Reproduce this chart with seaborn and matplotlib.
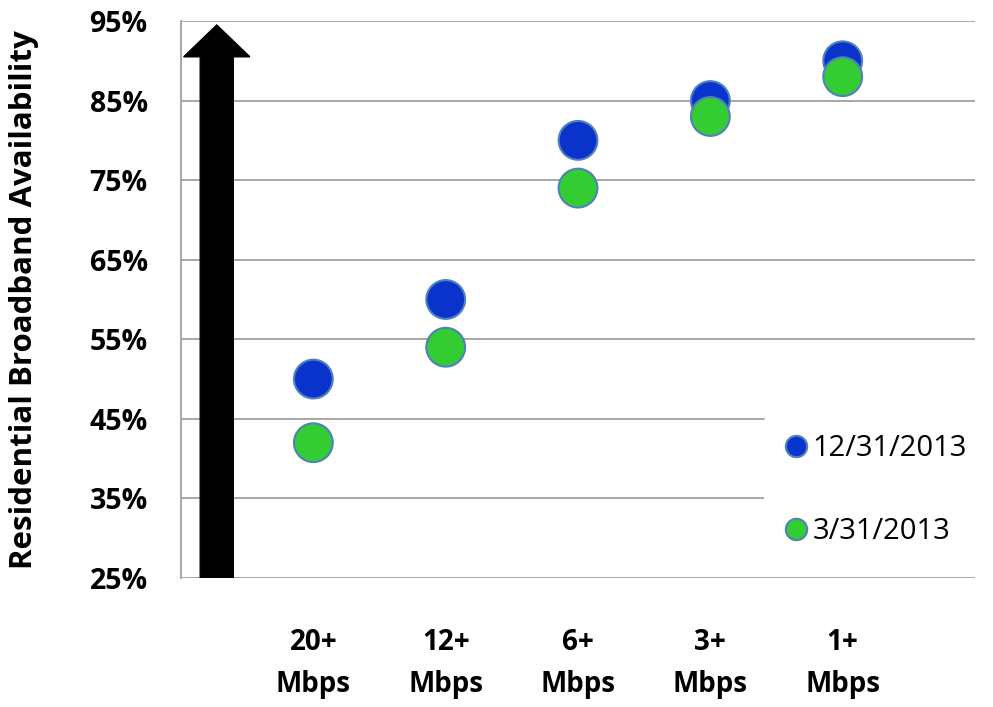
import numpy as np
import pandas as pd
import matplotlib
matplotlib.use("Agg")
import matplotlib.pyplot as plt
from matplotlib.patches import FancyArrow
import seaborn as sns

categories = ["20+\nMbps", "12+\nMbps", "6+\nMbps", "3+\nMbps", "1+\nMbps"]
series_names = ["12/31/2013", "3/31/2013"]
dec_2013 = [50, 60, 80, 85, 90]
mar_2013 = [42, 54, 74, 83, 88]
y_ticks = [25, 35, 45, 55, 65, 75, 85, 95]
y_tick_labels = ["25%", "35%", "45%", "55%", "65%", "75%", "85%", "95%"]

sns.set_style("white")
plt.rcParams["font.family"] = ["Open Sans", "DejaVu Sans"]
plt.rcParams["text.color"] = "black"
plt.rcParams["xtick.labelcolor"] = "black"
plt.rcParams["ytick.labelcolor"] = "black"
plt.rcParams["axes.labelcolor"] = "black"

pos = np.arange(len(categories))
df = pd.DataFrame({
    "x": np.concatenate([pos, pos]),
    "y": dec_2013 + mar_2013,
    "series": [series_names[0]] * len(pos) + [series_names[1]] * len(pos),
})

fig = plt.figure(figsize=(9.93, 7.07), dpi=100)
ax = fig.add_axes([0.1823, 0.1825, 0.7996, 0.7878])

palette = {series_names[0]: "#0A33CC", series_names[1]: "#33CC33"}
sns.scatterplot(data=df, x="x", y="y", hue="series", hue_order=series_names,
                palette=palette, s=780, edgecolor="#4F81BD", linewidth=1.5,
                ax=ax, zorder=3)

ax.set_xlim(-1, 5)
ax.set_ylim(25, 95)
ax.set_yticks(y_ticks)
ax.set_yticklabels(y_tick_labels, fontsize=20.5, fontweight="bold")
ax.set_xticks(pos)
ax.set_xticklabels(categories, fontsize=20, fontweight="bold", linespacing=1.6)
ax.tick_params(axis="x", length=0, pad=36)
ax.tick_params(axis="y", length=8, width=1.2, color="#A0A0A0", pad=16)
ax.set_xlabel("")
ax.set_ylabel("Residential Broadband Availability", fontsize=22.5, fontweight="bold", labelpad=36)

ax.grid(axis="y", color="#A0A0A0", linewidth=1.3, zorder=0)
ax.set_axisbelow(True)
for side in ["top", "right", "bottom"]:
    ax.spines[side].set_visible(False)
ax.spines["left"].set_color("#A0A0A0")
ax.spines["left"].set_linewidth(1.3)

arrow = FancyArrow(-0.73, 25, 0, 69.5, width=0.25, head_width=0.5, head_length=4,
                   length_includes_head=True, color="black", zorder=2)
ax.add_patch(arrow)

handles, labels = ax.get_legend_handles_labels()
leg = ax.legend(handles, labels, loc="lower right", bbox_to_anchor=(1.03, 0.0),
                frameon=True, facecolor="white", edgecolor="none", framealpha=1,
                fontsize=21, markerscale=0.55, labelspacing=1.85, handletextpad=0.05,
                borderpad=0.6, handlelength=1.0)
for h in leg.legend_handles:
    try:
        h.set_markeredgecolor("#4F81BD")
    except Exception:
        pass

fig.savefig("out.png", dpi=100)
